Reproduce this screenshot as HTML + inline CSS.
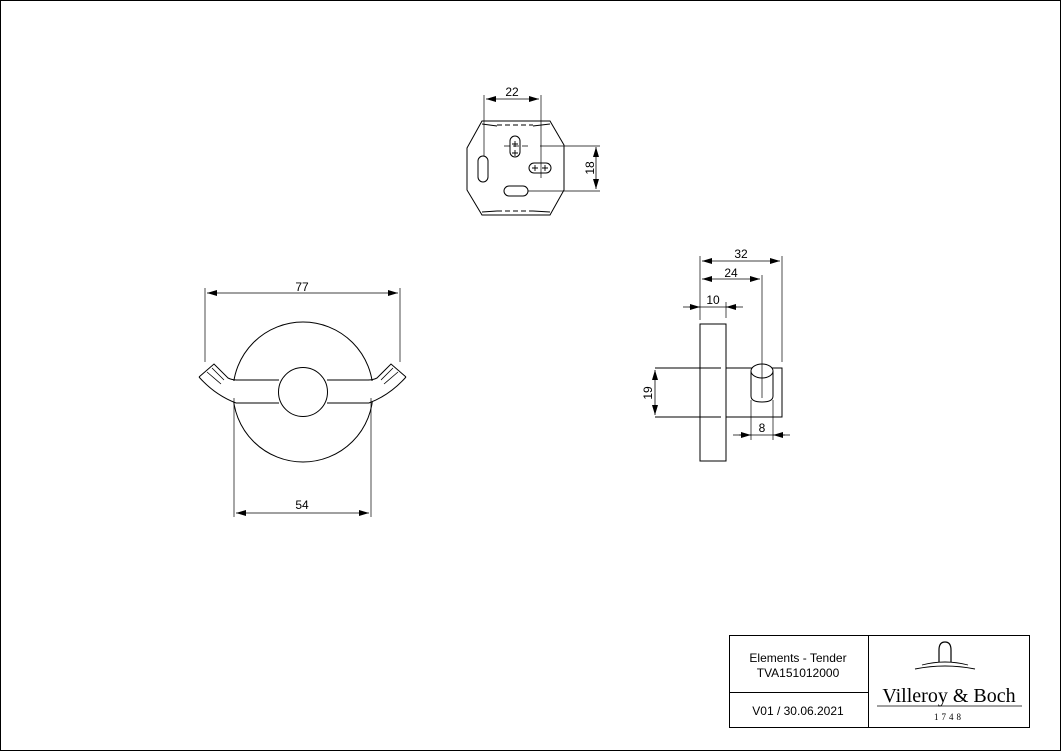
<!DOCTYPE html>
<html><head><meta charset="utf-8"><style>
html,body{margin:0;padding:0;background:#fff;}
svg{display:block;font-family:"Liberation Sans",sans-serif;}
</style></head><body>
<svg width="1062" height="752" viewBox="0 0 1062 752" xmlns="http://www.w3.org/2000/svg">
<defs>
<marker id="a" viewBox="0 0 10 6" refX="10" refY="3" markerWidth="10" markerHeight="6" orient="auto-start-reverse" markerUnits="userSpaceOnUse"><path d="M0,0 L10,3 L0,6 z" fill="#000"/></marker>
</defs>
<rect x="0.5" y="0.5" width="1060" height="750" fill="none" stroke="#000" stroke-width="1"/>
<g fill="none" stroke="#000" stroke-width="1">
<!-- top view plate -->
<polygon points="482,121 550,121 564,145 564,190 550,215 482,215 467,190 467,148"/>
<path d="M482,124 L497,126 M533,126 L550,124 M482,212 L497,211 M533,211 L550,212" />
<line x1="497" y1="125" x2="533" y2="125" stroke-dasharray="5,3"/>
<line x1="497" y1="211" x2="533" y2="211" stroke-dasharray="5,3"/>
<rect x="478" y="156" width="10" height="26" rx="5"/>
<rect x="510" y="136" width="10" height="21" rx="5"/>
<rect x="529" y="163" width="22" height="10" rx="5"/>
<rect x="504" y="186" width="24" height="10" rx="5"/>
<path d="M515,141v6M512,144h6M515,150v6M512,153h6M535,165v6M532,168h6M545,165v6M542,168h6" stroke-width="0.9"/>
<line x1="504" y1="146" x2="528" y2="146" stroke-dasharray="6,3" stroke-width="0.7"/>
<line x1="540" y1="146" x2="600" y2="146" stroke-width="0.7"/>
<line x1="528" y1="191" x2="600" y2="191" stroke-width="0.7"/>
<line x1="484" y1="95" x2="484" y2="156" stroke-width="0.7"/>
<line x1="541" y1="95" x2="541" y2="178" stroke-width="0.7"/>
<line x1="486" y1="99" x2="539" y2="99" stroke-width="0.8" marker-start="url(#a)" marker-end="url(#a)"/>
<line x1="596" y1="147" x2="596" y2="189" stroke-width="0.8" marker-start="url(#a)" marker-end="url(#a)"/>
<!-- front view -->
<circle cx="303" cy="392" r="70"/>
<rect x="225" y="381" width="156" height="21" fill="#fff" stroke="none"/>
<path d="M236,380 H279 M327,380 H369 M236,403 H279 M327,403 H369"/>
<circle cx="303" cy="392" r="24.5" fill="#fff"/>
<path fill="none" d="M199,377 L214,364 L228,378 Q232,380 237,380"/>
<path fill="none" d="M199,377 Q215,395 236,403"/>
<path fill="none" d="M207,372 L221,384 M212,368 L224,380" stroke-width="0.8"/>
<path fill="none" d="M406,377 L391,364 L377,378 Q373,380 368,380"/>
<path fill="none" d="M406,377 Q390,395 369,403"/>
<path fill="none" d="M398,372 L384,384 M393,368 L381,380" stroke-width="0.8"/>
<line x1="205" y1="288" x2="205" y2="362" stroke-width="0.7"/>
<line x1="400" y1="288" x2="400" y2="362" stroke-width="0.7"/>
<line x1="207" y1="293" x2="398" y2="293" stroke-width="0.8" marker-start="url(#a)" marker-end="url(#a)"/>
<line x1="234" y1="398" x2="234" y2="517" stroke-width="0.7"/>
<line x1="371" y1="398" x2="371" y2="517" stroke-width="0.7"/>
<line x1="236" y1="513" x2="369" y2="513" stroke-width="0.8" marker-start="url(#a)" marker-end="url(#a)"/>
<!-- side view -->
<rect x="700" y="324" width="26" height="137"/>
<path d="M655,368 H721 M655,417 H721 M726,368 H782 V417 H726"/>
<path d="M751,371 V396 Q751,402 762,402 Q773,402 773,396 V371"/>
<ellipse cx="762" cy="371" rx="11" ry="7" fill="#fff"/>
<line x1="762" y1="275" x2="762" y2="398" stroke-width="0.7"/>
<line x1="700" y1="256" x2="700" y2="320" stroke-width="0.7"/>
<line x1="782" y1="256" x2="782" y2="362" stroke-width="0.7"/>
<line x1="726" y1="302" x2="726" y2="318" stroke-width="0.7"/>
<line x1="702" y1="261" x2="780" y2="261" stroke-width="0.8" marker-start="url(#a)" marker-end="url(#a)"/>
<line x1="702" y1="279" x2="760" y2="279" stroke-width="0.8" marker-start="url(#a)" marker-end="url(#a)"/>
<line x1="683" y1="307" x2="743" y2="307" stroke-width="0.8"/>
<line x1="689" y1="307" x2="700" y2="307" stroke-width="0.8" marker-end="url(#a)"/>
<line x1="737" y1="307" x2="726" y2="307" stroke-width="0.8" marker-end="url(#a)"/>
<line x1="655" y1="370" x2="655" y2="415" stroke-width="0.8" marker-start="url(#a)" marker-end="url(#a)"/>
<line x1="751" y1="400" x2="751" y2="440" stroke-width="0.7"/>
<line x1="773" y1="400" x2="773" y2="440" stroke-width="0.7"/>
<line x1="733" y1="435" x2="790" y2="435" stroke-width="0.8"/>
<line x1="739" y1="435" x2="751" y2="435" stroke-width="0.8" marker-end="url(#a)"/>
<line x1="785" y1="435" x2="773" y2="435" stroke-width="0.8" marker-end="url(#a)"/>
<!-- title block -->
<rect x="729.5" y="635.5" width="300" height="92"/>
<line x1="868.5" y1="635" x2="868.5" y2="728"/>
<line x1="729" y1="692.5" x2="868" y2="692.5"/>
<path d="M939,662 V650 Q939,642 945,642 Q951,642 951,650 V662" stroke-width="1.2"/>
<path d="M922,665 Q945,659 968,665 M915,669 Q945,663 975,669" stroke-width="0.9"/>
<line x1="877" y1="706" x2="1022" y2="706" stroke-width="0.8"/>
</g>
<g font-size="12" text-anchor="middle" fill="#000">
<text x="512" y="96">22</text>
<text x="302" y="291">77</text>
<text x="302" y="509">54</text>
<text x="741" y="258">32</text>
<text x="731" y="277">24</text>
<text x="713" y="304">10</text>
<text x="762" y="432">8</text>
<text transform="translate(594,168) rotate(-90)">18</text>
<text transform="translate(652,393) rotate(-90)">19</text>
<text x="798" y="662">Elements - Tender</text>
<text x="798" y="677">TVA151012000</text>
<text x="798" y="715">V01 / 30.06.2021</text>
<text x="949" y="702" font-family="'Liberation Serif',serif" font-size="20">Villeroy &amp; Boch</text>
<text x="949" y="720" font-family="'Liberation Serif',serif" font-size="9" letter-spacing="3">1748</text>
</g>
</svg>
</body></html>
